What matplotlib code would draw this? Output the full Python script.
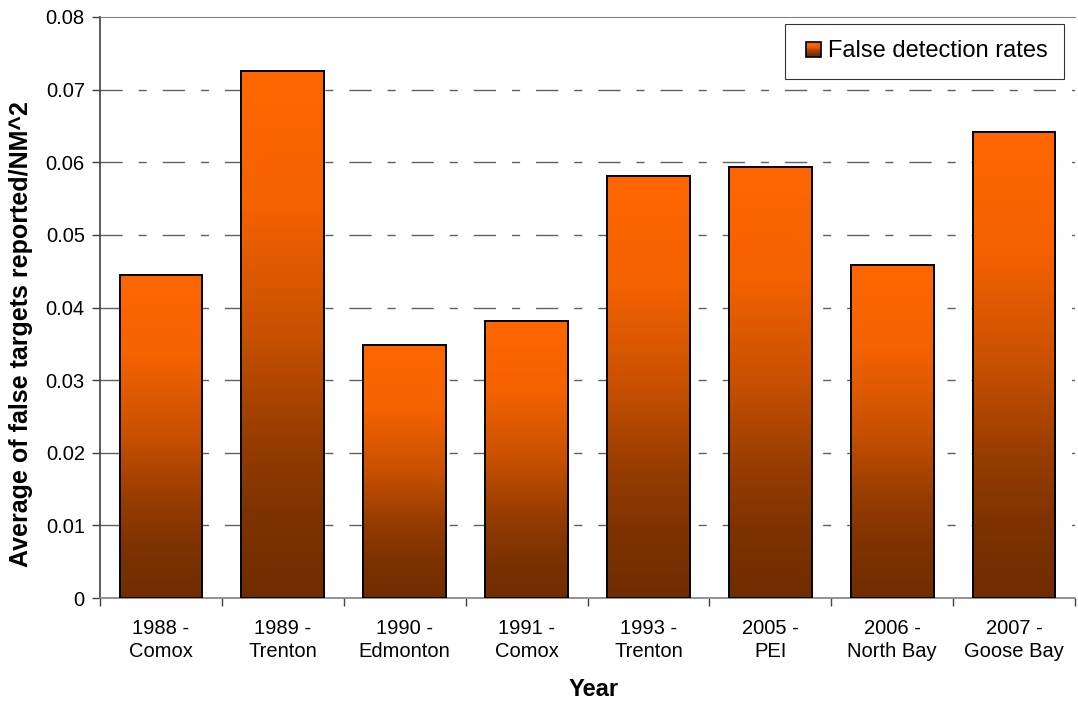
import matplotlib
matplotlib.use("Agg")
import matplotlib.pyplot as plt
import numpy as np
from matplotlib.colors import LinearSegmentedColormap
from matplotlib.legend_handler import HandlerBase
from matplotlib.patches import Rectangle

categories = ["1988 -\nComox", "1989 -\nTrenton", "1990 -\nEdmonton", "1991 -\nComox",
              "1993 -\nTrenton", "2005 -\nPEI", "2006 -\nNorth Bay", "2007 -\nGoose Bay"]
rates = [0.0445, 0.0725, 0.0348, 0.0382, 0.0581, 0.0593, 0.0459, 0.0642]
yticks = [0, 0.01, 0.02, 0.03, 0.04, 0.05, 0.06, 0.07, 0.08]
ytick_labels = ["0", "0.01", "0.02", "0.03", "0.04", "0.05", "0.06", "0.07", "0.08"]

plt.rcParams["font.family"] = ["Liberation Sans", "DejaVu Sans"]
plt.rcParams["lines.scale_dashes"] = False

# orange at the top of each bar fading to brown at the base
bar_cmap = LinearSegmentedColormap.from_list("bar", [
    (0.0, (112 / 255, 45 / 255, 0)),
    (0.15, (125 / 255, 50 / 255, 0)),
    (0.3, (150 / 255, 60 / 255, 0)),
    (0.5, (200 / 255, 80 / 255, 0)),
    (0.75, (245 / 255, 98 / 255, 0)),
    (1.0, (1.0, 102 / 255, 0)),
])


class GradientSquare(HandlerBase):
    def create_artists(self, legend, orig_handle, xdescent, ydescent, width, height, fontsize, trans):
        size = 10.5
        x0 = -xdescent + width - size
        y0 = -ydescent + (height - size) / 2
        n = 12
        artists = []
        for i in range(n):
            artists.append(Rectangle((x0, y0 + size * i / n), size, size / n + 0.2,
                                     facecolor=bar_cmap(i / (n - 1)), edgecolor="none",
                                     transform=trans))
        artists.append(Rectangle((x0, y0), size, size, facecolor="none",
                                 edgecolor="black", linewidth=1.2, transform=trans))
        return artists


fig = plt.figure(figsize=(10.78, 7.02), dpi=100)
ax = fig.add_axes([0.0928, 0.1481, 0.9044, 0.8277])

x = np.arange(len(categories))
bars = ax.bar(x, rates, width=0.68, facecolor="none", edgecolor="black", linewidth=1.4, zorder=3)

grad = np.linspace(0, 1, 256).reshape(-1, 1)
for bar in bars:
    x0 = bar.get_x()
    ax.imshow(grad, cmap=bar_cmap, origin="lower", aspect="auto", zorder=2,
              extent=(x0, x0 + bar.get_width(), 0, bar.get_height()))

ax.set_xlim(-0.5, len(categories) - 0.5)
ax.set_ylim(0, 0.08)
ax.set_xticks(np.arange(len(categories) + 1) - 0.5)
ax.set_xticklabels([])
ax.set_xticks(x, minor=True)
ax.set_xticklabels(categories, minor=True, fontsize=14.5, linespacing=1.3)
ax.tick_params(axis="x", which="minor", length=0, pad=15)
ax.tick_params(axis="x", which="major", length=6, width=1, color="#404040", direction="out")
ax.set_yticks(yticks)
ax.set_yticklabels(ytick_labels, fontsize=14.5)
ax.tick_params(axis="y", length=6, width=1, color="#404040", pad=5)

for y in yticks[1:-1]:
    ax.axhline(y, color="#606060", linewidth=1.0, dashes=(16, 11.5, 5.8, 11.5), zorder=1)

ax.spines["right"].set_visible(False)
ax.spines["top"].set_color("#808080")
ax.spines["left"].set_color("#404040")
ax.spines["bottom"].set_color("#808080")
ax.spines["left"].set_linewidth(1.2)
ax.spines["bottom"].set_linewidth(1.2)

ax.set_ylabel("Average of false targets reported/NM^2", fontsize=18, fontweight="bold")
ax.yaxis.set_label_coords(-0.0687, 0.454)
ax.set_xlabel("Year", fontsize=17, fontweight="bold")
ax.xaxis.set_label_coords(0.506, -0.138)

leg = ax.legend([Rectangle((0, 0), 1, 1)], ["False detection rates"], handler_map={Rectangle: GradientSquare()},
                loc="upper right", bbox_to_anchor=(0.9887, 0.988), borderaxespad=0, fontsize=17,
                frameon=True, fancybox=False, borderpad=0.7, handlelength=0.8, handletextpad=0.3)
leg.get_frame().set_edgecolor("black")
leg.get_frame().set_linewidth(0.8)

fig.savefig("out.png", dpi=100)
